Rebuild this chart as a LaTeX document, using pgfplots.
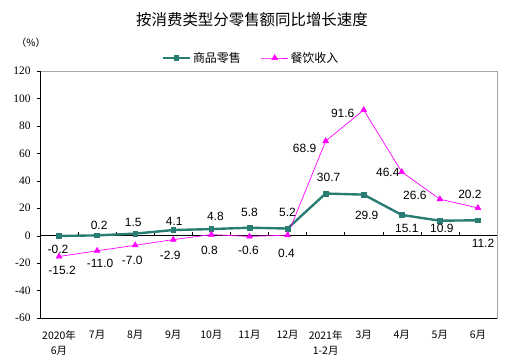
\documentclass[border=0pt]{standalone}
\usepackage{pgfplots}
\pgfplotsset{compat=1.18}
\usepackage{pgfplotstable}
\usepackage{fontspec}
\setmainfont{Liberation Sans}
\newfontfamily\cjk{Noto Sans CJK SC}
\newfontfamily\serif{Liberation Serif}
\definecolor{tealc}{RGB}{42,125,115}
\definecolor{magc}{RGB}{255,0,255}

\pgfplotstableread{
x y dx dy lab
0 -0.2 -1 -13 -0.2
1 0.2 2 10 0.2
2 1.5 -2 11 1.5
3 4.1 1 9 4.1
4 4.8 4 13 4.8
5 5.8 0 15 5.8
6 5.2 0 16 5.2
7 30.7 3 16 30.7
8 29.9 3 -21 29.9
9 15.1 5 -14 15.1
10 10.9 2 -8 10.9
11 11.2 5 -23 11.2
}\retail

\pgfplotstableread{
x y dx dy lab
0 -15.2 3 -14 -15.2
1 -11.0 3 -13 -11.0
2 -7.0 -3 -15 -7.0
3 -2.9 -3 -16 -2.9
4 0.8 -2 -16 0.8
5 -0.6 -1 -14 -0.6
6 0.4 -1 -18 0.4
7 68.9 -21 -7 68.9
8 91.6 -21 -3 91.6
9 46.4 -14 0 46.4
10 26.6 -25 4 26.6
11 20.2 -8 14 20.2
}\catering

\pgfplotsset{labelplot/.style={
  forget plot, draw=none, mark=none,
  nodes near coords,
  point meta=explicit symbolic,
  visualization depends on={\thisrow{dx} \as \dx},
  visualization depends on={\thisrow{dy} \as \dy},
  every node near coord/.append style={anchor=center, font=\fontsize{12}{13}\selectfont, text=black, xshift=\dx bp, yshift=\dy bp},
}}

\begin{document}
\begin{tikzpicture}
\useasboundingbox (0,0) rectangle (528bp,364bp);
\node[font=\cjk\fontsize{15.5}{17}\selectfont] at (252bp,344bp) {按消费类型分零售额同比增长速度};
\node[font=\cjk\fontsize{10}{12}\selectfont] at (31bp,321bp) {（\%）};
\begin{axis}[
  at={(40bp,46bp)}, anchor=south west,
  scale only axis, width=457bp, height=247bp,
  xmin=-0.5, xmax=11.5, ymin=-60, ymax=120,
  ytick={-60,-40,...,120},
  ytick pos=left,
  tick align=outside,
  major tick length=3bp,
  xtick={0,...,11},
  xtick style={draw=none},
  xticklabels={{2020年\\6月},7月,8月,9月,10月,11月,12月,{2021年\\1-2月},3月,4月,5月,6月},
  xticklabel style={font=\cjk\fontsize{10.5}{15}\selectfont, align=center, yshift=-6bp},
  yticklabel style={font=\serif\fontsize{11.5}{13}\selectfont, xshift=-3bp},
  /pgf/number format/assume math mode=true,
  axis line style={gray!70},
  ytick style={black},
  legend style={at={(0.4617,1.0526)}, anchor=center, draw=none, fill=none,
    legend columns=2, font=\cjk\fontsize{12}{14}\selectfont,
    /tikz/every even column/.append style={column sep=18bp}},
  legend image code/.code={\draw[mark repeat=2,mark phase=2] plot coordinates {(0bp,0bp) (13.5bp,0bp) (27bp,0bp)};},
  clip=false,
]
\draw[black] (rel axis cs:0,0) -- (rel axis cs:1,0);
\draw[black] (rel axis cs:0,0) -- (rel axis cs:0,1);
\draw[black] (axis cs:-0.5,0) -- (axis cs:11.5,0);
\pgfplotsinvokeforeach{0.5,1.5,2.5,3.5,4.5,5.5,6.5,7.5,8.5,9.5,10.5}{
  \draw[black] (axis cs:#1,0) -- ([yshift=3.5bp]axis cs:#1,0);
}
\addplot[color=tealc, line width=2.4pt, mark=square*, mark size=2.4bp, mark options={solid, line width=0.6pt}] table[x=x,y=y] {\retail};
\addlegendentry{商品零售}
\addplot[color=magc, line width=0.7pt, mark=triangle*, mark size=3.4bp, mark options={solid, line width=0.5pt}] table[x=x,y=y] {\catering};
\addlegendentry{餐饮收入}
\addplot[labelplot] table[x=x,y=y,meta=lab] {\retail};
\addplot[labelplot] table[x=x,y=y,meta=lab] {\catering};
\end{axis}
\end{tikzpicture}
\end{document}
